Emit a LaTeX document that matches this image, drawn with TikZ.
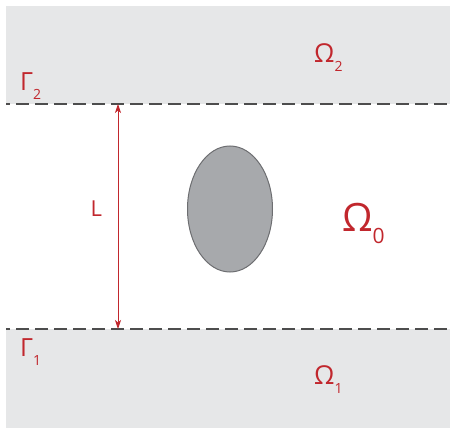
\documentclass[tikz,border=0pt]{standalone}
\usepackage{fontspec}
\setmainfont{Open Sans}
\usetikzlibrary{arrows.meta, positioning}

\definecolor{labelred}{RGB}{193,39,45}
\definecolor{bandgray}{RGB}{230,231,232}
\definecolor{dashgray}{RGB}{77,77,77}
\definecolor{bodygray}{RGB}{167,169,172}
\definecolor{rimgray}{RGB}{109,110,113}

\newcommand{\subsz}[1]{\raisebox{-9pt}{\fontsize{14}{14}\selectfont #1}}

\begin{document}
\begin{tikzpicture}[x=1pt, y=-1pt, >=Stealth,
    lbl/.style={labelred, inner sep=0pt, anchor=base west},
    wall/.style={dashgray, line width=2pt, dash pattern=on 13pt off 6pt, dash phase=9pt}]
    \useasboundingbox (0,0) rectangle (451,431);
    % the two outer layers
    \fill[bandgray] (6,6) rectangle (450,104);
    \fill[bandgray] (6,329) rectangle (450,428);

    % interfaces
    \draw[wall] (6,104) -- (451,104);
    \draw[wall] (6,329) -- (451,329);

    % inclusion
    \filldraw[fill=bodygray, draw=rimgray, line width=1pt] (230,209) ellipse [x radius=42.5, y radius=63];

    % gap width
    \coordinate (top) at (118,104);
    \coordinate (bot) at (118,329);
    \draw[<->, labelred, line width=0.8pt, >={Stealth[length=9pt, width=6pt, inset=2.5pt]}] (top) -- (bot);

    \node[lbl, font=\fontsize{22}{22}\selectfont] (len) at (90.5,216) {L};
    \node[lbl, font=\fontsize{25}{25}\selectfont] (gamma2) at (20,90.7) {Γ\subsz{2}};
    \node[lbl, font=\fontsize{25}{25}\selectfont] (gamma1) at (20,356) {Γ\subsz{1}};
    \node[lbl, font=\fontsize{26}{26}\selectfont] (omega2) at (314,63) {Ω\subsz{2}};
    \node[lbl, font=\fontsize{26}{26}\selectfont] (omega1) at (314,384.3) {Ω\subsz{1}};
    \node[lbl, font=\fontsize{39}{39}\selectfont] (omega0) at (342,231) {Ω\raisebox{-13pt}{\fontsize{21}{21}\selectfont 0}};
\end{tikzpicture}
\end{document}
